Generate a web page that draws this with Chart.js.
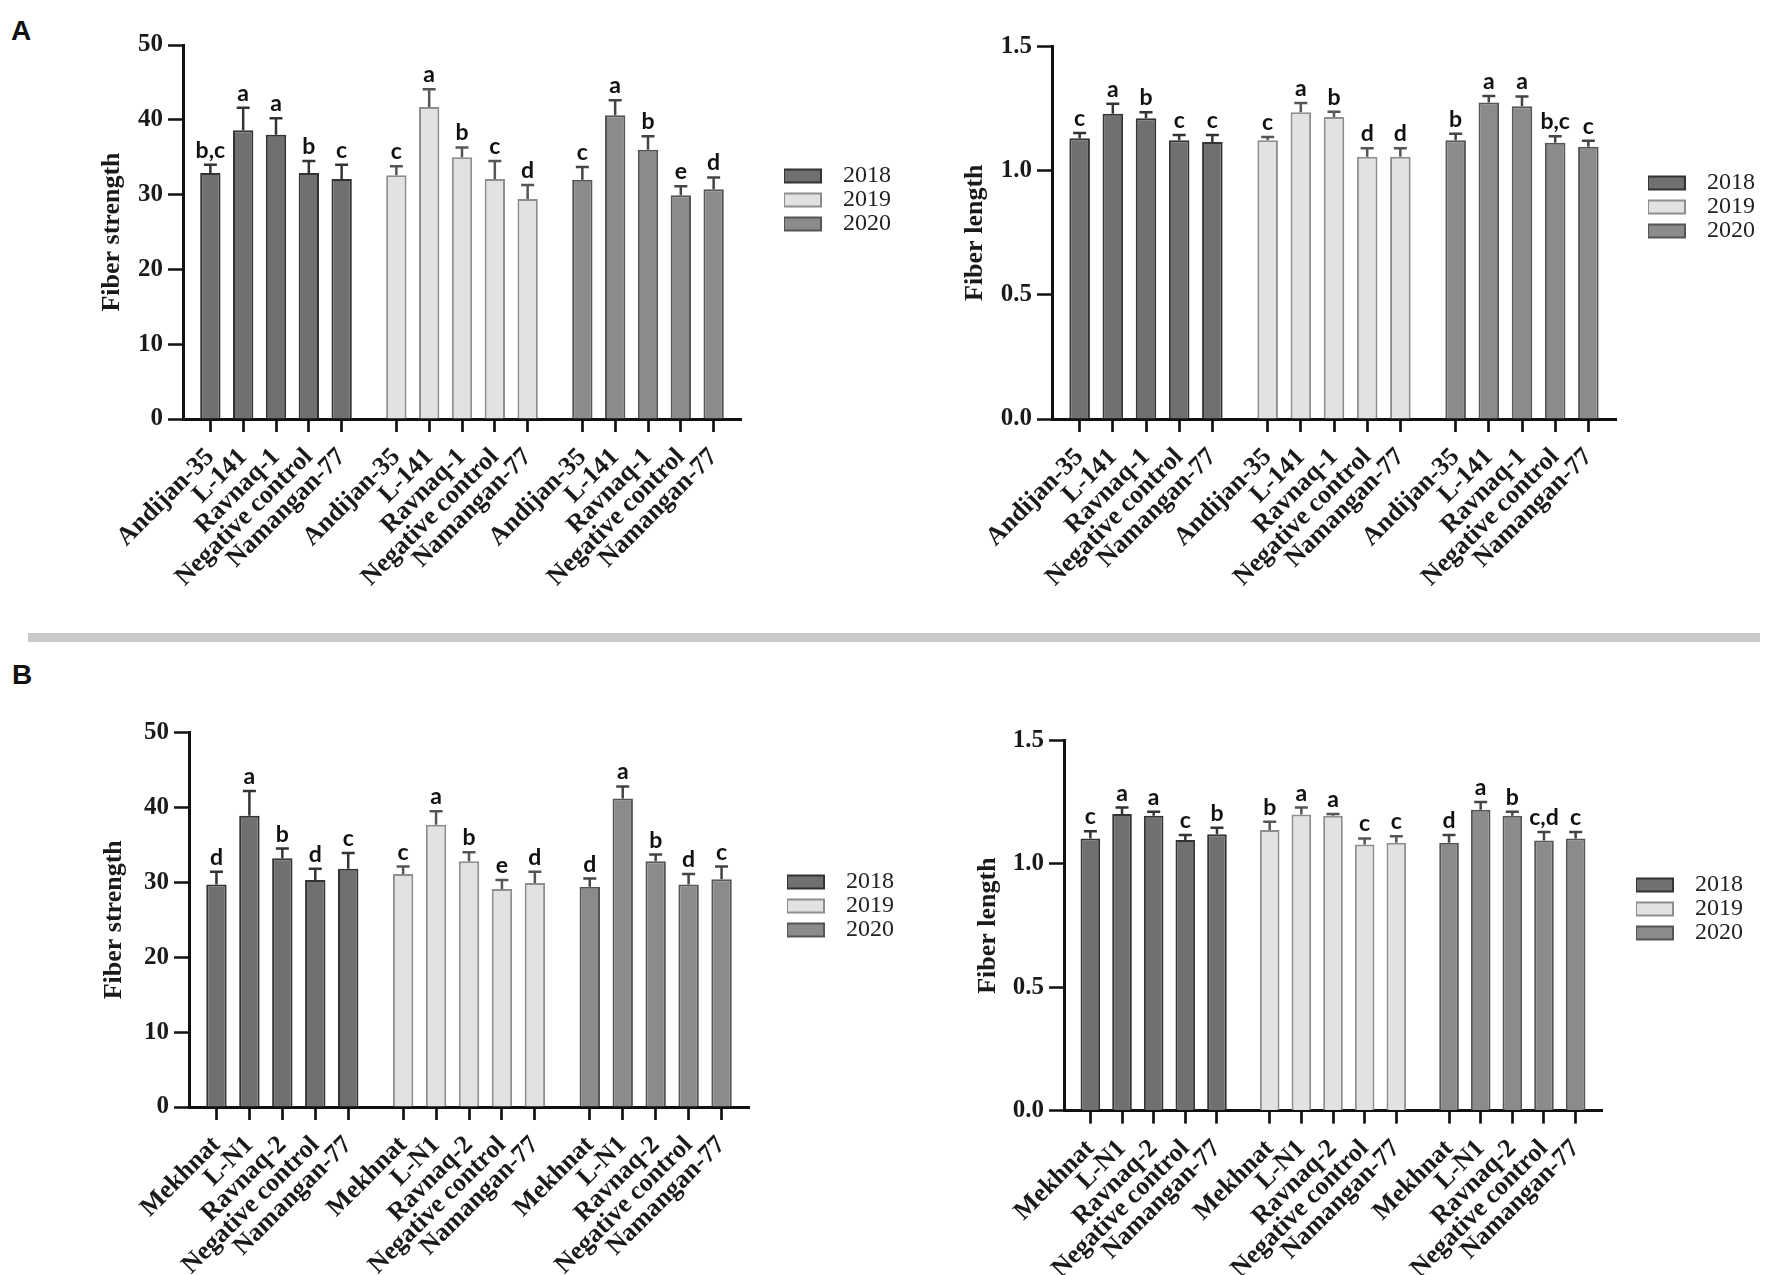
<!DOCTYPE html>
<html>
<head>
<meta charset="utf-8">
<title>Fiber strength and fiber length</title>
<script src="https://cdn.jsdelivr.net/npm/chart.js@4.4.1/dist/chart.umd.min.js"></script>
<style>
    body { margin: 0; background: #fff; width: 1775px; height: 1275px; position: relative; overflow: hidden; }
    .panel { position: absolute; }
    .tag { position: absolute; font: bold 28px "Liberation Sans", Arial, sans-serif; color: #111; }
    .sep { position: absolute; left: 28px; top: 633px; width: 1732px; height: 9px; background: #c9c9c9; }
</style>
</head>
<body>
<div class="tag" style="left:11px; top:15px;">A</div>
<div class="tag" style="left:12px; top:659px;">B</div>
<div class="sep"></div>
<div class="panel" style="left:0px; top:0px; width:900px; height:620px;"><canvas id="strengthA"></canvas></div>
<div class="panel" style="left:880px; top:0px; width:895px; height:620px;"><canvas id="lengthA"></canvas></div>
<div class="panel" style="left:0px; top:650px; width:900px; height:625px;"><canvas id="strengthB"></canvas></div>
<div class="panel" style="left:880px; top:650px; width:895px; height:625px;"><canvas id="lengthB"></canvas></div>
<script>
// Years (legend) and cultivars (x categories, repeated for each year)
const yearLabels = ['2018', '2019', '2020'];
const cultivarsA = ['Andijan-35', 'L-141', 'Ravnaq-1', 'Negative control', 'Namangan-77'];
const cultivarsB = ['Mekhnat', 'L-N1', 'Ravnaq-2', 'Negative control', 'Namangan-77'];

// Y tick values
const strengthTicks = [0, 10, 20, 30, 40, 50];
const lengthTicks = [0, 0.5, 1.0, 1.5];

// Panel A - fiber strength (one row per year)
const strengthAMean = [
    [32.9, 38.6, 38.0, 32.9, 32.1],
    [32.6, 41.7, 35.0, 32.1, 29.4],
    [32.0, 40.6, 36.0, 29.9, 30.7]
];
const strengthAErr = [
    [1.1, 3.0, 2.2, 1.6, 1.9],
    [1.2, 2.4, 1.3, 2.4, 1.9],
    [1.7, 2.0, 1.8, 1.2, 1.6]
];
const strengthALetters = [
    ['b,c', 'a', 'a', 'b', 'c'],
    ['c', 'a', 'b', 'c', 'd'],
    ['c', 'a', 'b', 'e', 'd']
];

// Panel A - fiber length
const lengthAMean = [
    [1.131, 1.229, 1.211, 1.122, 1.115],
    [1.122, 1.235, 1.216, 1.056, 1.056],
    [1.122, 1.275, 1.259, 1.112, 1.096]
];
const lengthAErr = [
    [0.021, 0.040, 0.024, 0.022, 0.029],
    [0.014, 0.037, 0.021, 0.034, 0.034],
    [0.027, 0.026, 0.040, 0.027, 0.024]
];
const lengthALetters = [
    ['c', 'a', 'b', 'c', 'c'],
    ['c', 'a', 'b', 'd', 'd'],
    ['b', 'a', 'a', 'b,c', 'c']
];

// Panel B - fiber strength
const strengthBMean = [
    [29.7, 38.9, 33.2, 30.3, 31.8],
    [31.1, 37.7, 32.8, 29.1, 29.9],
    [29.4, 41.2, 32.8, 29.7, 30.4]
];
const strengthBErr = [
    [1.7, 3.3, 1.3, 1.5, 2.1],
    [1.0, 1.8, 1.2, 1.2, 1.5],
    [1.1, 1.6, 0.9, 1.4, 1.7]
];
const strengthBLetters = [
    ['d', 'a', 'b', 'd', 'c'],
    ['c', 'a', 'b', 'e', 'd'],
    ['d', 'a', 'b', 'd', 'c']
];

// Panel B - fiber length
const lengthBMean = [
    [1.103, 1.202, 1.195, 1.097, 1.120],
    [1.137, 1.200, 1.195, 1.078, 1.086],
    [1.086, 1.219, 1.195, 1.095, 1.103]
];
const lengthBErr = [
    [0.029, 0.026, 0.016, 0.020, 0.026],
    [0.034, 0.028, 0.007, 0.025, 0.026],
    [0.031, 0.032, 0.016, 0.034, 0.026]
];
const lengthBLetters = [
    ['c', 'a', 'a', 'c', 'b'],
    ['b', 'a', 'a', 'c', 'c'],
    ['d', 'a', 'b', 'c,d', 'c']
];

// Styles
const yearFill = ['#707070', '#e2e2e2', '#8b8b8b'];
const yearEdge = ['#333333', '#8e8e8e', '#555555'];
const yearWhisker = ['#333333', '#555555', '#444444'];
const serif = '"Liberation Serif", "Times New Roman", serif';
const LEGEND_FONT = 24, LEGEND_BOX = 37;

// Sub-slot layout of the category axis: 3 sub-slots between bars, 5 between year groups
const EDGE = 2, STEP = 3, GAP = 5;

function buildSlots(names) {
    const index = [];
    let pos = EDGE;
    yearLabels.forEach(() => {
        const row = [];
        names.forEach((n, k) => {
            row.push(pos);
            pos += (k < names.length - 1) ? STEP : GAP;
        });
        index.push(row);
    });
    const count = pos - GAP + STEP;
    const labels = new Array(count).fill('');
    index.forEach(row => row.forEach((p, k) => { labels[p] = names[k]; }));
    return { labels, index };
}

// Error bars and significance letters, placed with the chart's own y scale
const errorBars = {
    id: 'errorBars',
    afterDatasetsDraw(chart) {
        const { ctx, scales: { y } } = chart;
        ctx.save();
        chart.data.datasets.forEach((ds, i) => {
            const meta = chart.getDatasetMeta(i);
            meta.data.forEach((bar, j) => {
                const v = ds.data[j];
                if (v === null || v === undefined) return;
                const top = y.getPixelForValue(v + ds.errors[j]);
                ctx.strokeStyle = yearWhisker[i];
                ctx.lineWidth = 2.5;
                ctx.beginPath();
                ctx.moveTo(bar.x, bar.y);
                ctx.lineTo(bar.x, top);
                ctx.moveTo(bar.x - 6.5, top);
                ctx.lineTo(bar.x + 6.5, top);
                ctx.stroke();
                ctx.fillStyle = '#111';
                ctx.font = 'bold 23px Lato, "Open Sans", sans-serif';
                ctx.textAlign = 'center';
                ctx.textBaseline = 'alphabetic';
                ctx.fillText(ds.letters[j], bar.x, top - 7);
            });
        });
        ctx.restore();
    }
};

const measure = document.createElement('canvas').getContext('2d');
measure.font = LEGEND_FONT + 'px ' + serif;
const legendTextW = Math.max(...yearLabels.map(t => measure.measureText(t).width));

function makePanel(id, geo, names, means, errs, letters, ticks, yTitle, decimals) {
    const slots = buildSlots(names);
    const n = slots.labels.length;
    const datasets = yearLabels.map((year, g) => {
        const data = new Array(n).fill(null);
        const errors = new Array(n).fill(null);
        const marks = new Array(n).fill('');
        slots.index[g].forEach((p, k) => {
            data[p] = means[g][k];
            errors[p] = errs[g][k];
            marks[p] = letters[g][k];
        });
        return {
            label: year,
            data: data,
            errors: errors,
            letters: marks,
            backgroundColor: yearFill[g],
            borderColor: yearEdge[g],
            borderWidth: 2,
            grouped: false,
            categoryPercentage: 1,
            barPercentage: 1.86
        };
    });

    // geometry in canvas coordinates
    const padTop = geo.chartTop - geo.top;
    const padRight = geo.width - (geo.textEnd - geo.left);
    const legendLeft = geo.textEnd - geo.left - (LEGEND_BOX + LEGEND_FONT / 2 + legendTextW + 10);
    const spacer = legendLeft - (geo.chartRight - geo.left);
    const xAxisH = geo.height - (geo.chartBottom - geo.top);
    const yAxisW = geo.chartLeft - geo.left;
    const legendTitleH = geo.row1 - LEGEND_FONT / 2 - geo.chartTop;
    const yTitlePad = geo.titleX - geo.left - 26 * 1.2 / 2;

    new Chart(document.getElementById(id), {
        type: 'bar',
        data: { labels: slots.labels, datasets: datasets },
        options: {
            responsive: true,
            maintainAspectRatio: false,
            animation: false,
            layout: { padding: { top: padTop, right: padRight, bottom: 0, left: 0 } },
            plugins: {
                tooltip: { enabled: false },
                legend: {
                    position: 'right',
                    fullSize: false,
                    align: 'start',
                    title: {
                        display: true,
                        text: ' ',
                        font: { size: 2 },
                        padding: { top: legendTitleH - 2.4, bottom: 0 }
                    },
                    labels: {
                        boxWidth: LEGEND_BOX,
                        boxHeight: 13,
                        padding: 0,
                        textAlign: 'right',
                        color: '#222',
                        font: { family: serif, size: LEGEND_FONT }
                    }
                }
            },
            scales: {
                x: {
                    offset: true,
                    grid: {
                        offset: false,
                        drawOnChartArea: false,
                        drawTicks: true,
                        tickLength: 13,
                        tickWidth: 2.7,
                        tickColor: ctx => slots.labels[ctx.index] ? '#111' : 'rgba(0,0,0,0)'
                    },
                    border: { display: true, color: '#111', width: 3 },
                    ticks: {
                        autoSkip: false,
                        minRotation: 45,
                        maxRotation: 45,
                        padding: 10,
                        color: '#1a1a1a',
                        font: { family: serif, size: 26, weight: 'bold' }
                    },
                    afterFit: s => { s.height = xAxisH; }
                },
                y: {
                    min: ticks[0],
                    max: ticks[ticks.length - 1],
                    afterBuildTicks: s => { s.ticks = ticks.map(v => ({ value: v })); },
                    grid: {
                        drawOnChartArea: false,
                        drawTicks: true,
                        tickLength: 15,
                        tickWidth: 2.5,
                        tickColor: '#111'
                    },
                    border: { display: true, color: '#111', width: 3 },
                    ticks: {
                        padding: 5,
                        color: '#1a1a1a',
                        font: { family: serif, size: 25, weight: 'bold' },
                        callback: v => Number(v).toFixed(decimals)
                    },
                    title: {
                        display: true,
                        text: yTitle,
                        color: '#1a1a1a',
                        font: { family: serif, size: 26, weight: 'bold' },
                        padding: { top: yTitlePad, bottom: 0 }
                    },
                    afterFit: s => { s.width = yAxisW; }
                },
                spacer: {
                    type: 'linear',
                    position: 'right',
                    grid: { display: false, drawTicks: false },
                    border: { display: false },
                    ticks: { display: false },
                    afterFit: s => { s.width = spacer; }
                }
            }
        },
        plugins: [errorBars]
    });
}

makePanel('strengthA',
    { left: 0, top: 0, width: 900, height: 620, chartLeft: 183, chartTop: 45, chartBottom: 419, chartRight: 741, textEnd: 891, row1: 176, titleX: 112 },
    cultivarsA, strengthAMean, strengthAErr, strengthALetters, strengthTicks, 'Fiber strength', 0);
makePanel('lengthA',
    { left: 880, top: 0, width: 895, height: 620, chartLeft: 1052, chartTop: 46.5, chartBottom: 419, chartRight: 1616, textEnd: 1755, row1: 183, titleX: 975 },
    cultivarsA, lengthAMean, lengthAErr, lengthALetters, lengthTicks, 'Fiber length', 1);
makePanel('strengthB',
    { left: 0, top: 650, width: 900, height: 625, chartLeft: 189, chartTop: 732.5, chartBottom: 1107, chartRight: 749, textEnd: 894, row1: 882, titleX: 114 },
    cultivarsB, strengthBMean, strengthBErr, strengthBLetters, strengthTicks, 'Fiber strength', 0);
makePanel('lengthB',
    { left: 880, top: 650, width: 895, height: 625, chartLeft: 1064, chartTop: 740.5, chartBottom: 1110.6, chartRight: 1602, textEnd: 1743, row1: 885, titleX: 988 },
    cultivarsB, lengthBMean, lengthBErr, lengthBLetters, lengthTicks, 'Fiber length', 1);
</script>
</body>
</html>
